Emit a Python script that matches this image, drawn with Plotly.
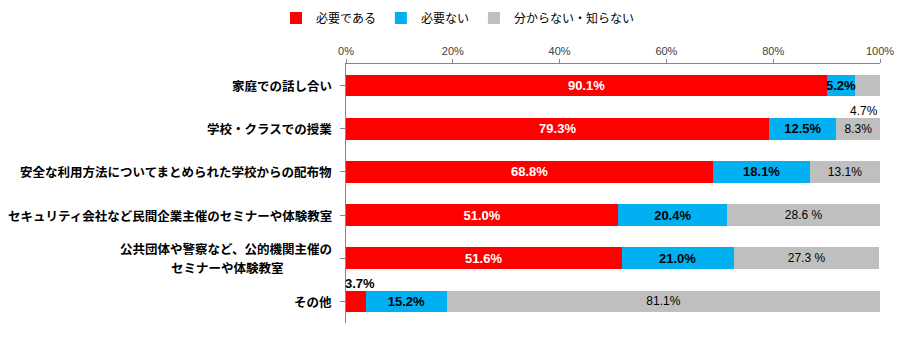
import plotly.graph_objects as go

categories = [
    "家庭での話し合い",
    "学校・クラスでの授業",
    "安全な利用方法についてまとめられた学校からの配布物",
    "セキュリティ会社など民間企業主催のセミナーや体験教室",
    "公共団体や警察など、公的機関主催の<br>セミナーや体験教室",
    "その他",
]
needed = [90.1, 79.3, 68.8, 51.0, 51.6, 3.7]
not_needed = [5.2, 12.5, 18.1, 20.4, 21.0, 15.2]
unknown = [4.7, 8.3, 13.1, 28.6, 27.3, 81.1]
unknown_labels = ["4.7%", "8.3%", "13.1%", "28.6 %", "27.3 %", "81.1%"]
series_names = ["必要である", "必要ない", "分からない・知らない"]
colors = ["#FF0000", "#00B0F0", "#BFBFBF"]
tick_vals = [0, 20, 40, 60, 80, 100]
tick_text = ["0%", "20%", "40%", "60%", "80%", "100%"]

keys = list(range(len(categories)))
num_font = "Liberation Sans, Arial, sans-serif"
jp_font = "Noto Sans CJK JP, sans-serif"

fig = go.Figure()

red_text = [f"{v:.1f}%" if v >= 10 else "" for v in needed]
blue_text = [f"{v:.1f}%" if v >= 8 else "" for v in not_needed]
gray_text = [t if v >= 6 else "" for t, v in zip(unknown_labels, unknown)]

fig.add_trace(go.Bar(
    y=keys, x=needed, orientation="h", name=series_names[0],
    marker=dict(color=colors[0], line=dict(width=0)),
    text=red_text, textposition="inside", insidetextanchor="middle",
    textfont=dict(family=num_font, size=13, color="white", weight="bold"),
    hoverinfo="skip",
))
fig.add_trace(go.Bar(
    y=keys, x=not_needed, orientation="h", name=series_names[1],
    marker=dict(color=colors[1], line=dict(width=0)),
    text=blue_text, textposition="inside", insidetextanchor="middle",
    textfont=dict(family=num_font, size=13, color="black", weight="bold"),
    hoverinfo="skip",
))
fig.add_trace(go.Bar(
    y=keys, x=unknown, orientation="h", name=series_names[2],
    marker=dict(color=colors[2], line=dict(width=0)),
    text=gray_text, textposition="inside", insidetextanchor="middle",
    textfont=dict(family=num_font, size=12, color="black"),
    hoverinfo="skip",
))

annotations = []
# category labels; multi-line labels are drawn line by line, centred
for k, c in zip(keys, categories):
    lines = c.split("<br>")
    n_lines = len(lines)
    for i, line in enumerate(lines):
        shift = ((n_lines - 1) / 2 - i) * 19
        annotations.append(dict(
            x=0, xref="paper", y=k, yref="y", text=line, showarrow=False,
            xanchor="right" if i == 0 else "center",
            xshift=-12 if i == 0 else 0,
            yshift=shift,
            font=dict(family=jp_font, size=12.5, color="black", weight="bold"),
        ))
        if i > 0:
            # centre later lines under the first line
            first_w = len(lines[0]) * 12.5
            annotations[-1]["xanchor"] = "center"
            annotations[-1]["xshift"] = -12 - first_w / 2

# narrow blue segments: label centred on segment without shrinking
for k, n, nn in zip(keys, needed, not_needed):
    if nn < 8:
        annotations.append(dict(
            x=n + nn / 2, y=k, text=f"{nn:.1f}%", showarrow=False,
            xanchor="center",
            font=dict(family=num_font, size=13, color="black", weight="bold"),
        ))
# small values labelled outside
for k, v, t, n, nn in zip(keys, unknown, unknown_labels, needed, not_needed):
    if v < 6:
        annotations.append(dict(
            x=n + nn + v, y=k, text=t, showarrow=False, xanchor="right",
            yshift=-25, font=dict(family=num_font, size=12, color="black"),
        ))
for k, v in zip(keys, needed):
    if v < 10:
        annotations.append(dict(
            x=0, y=k, text=f"{v:.1f}%", showarrow=False, xanchor="left",
            xshift=-3, yshift=18,
            font=dict(family=num_font, size=13, color="black", weight="bold"),
        ))

fig.update_layout(
    barmode="stack",
    bargap=0.5,
    width=910, height=338,
    margin=dict(l=346, r=30, t=64, b=15),
    paper_bgcolor="white", plot_bgcolor="white",
    showlegend=True,
    legend=dict(
        orientation="h", xref="container", yref="container",
        x=0.3033, xanchor="left", y=0.99, yanchor="top",
        font=dict(family=jp_font, size=12, color="black"),
        itemwidth=30, traceorder="normal",
    ),
    xaxis=dict(
        side="top", range=[0, 100], tickvals=tick_vals, ticktext=tick_text,
        showgrid=False, zeroline=False, showline=True, linecolor="#868686",
        linewidth=1, ticks="outside", ticklen=4, tickcolor="#868686",
        tickfont=dict(family=num_font, size=11, color="#404040"),
        fixedrange=True,
    ),
    yaxis=dict(
        autorange="reversed", tickvals=keys, ticktext=[""] * len(keys),
        showgrid=False, zeroline=False, showline=True, linecolor="#868686",
        linewidth=1, ticks="outside", ticklen=5, tickcolor="#868686",
        range=[len(keys) - 0.5, -0.5],
        fixedrange=True,
    ),
    annotations=annotations,
)

fig.write_html("out.html")
